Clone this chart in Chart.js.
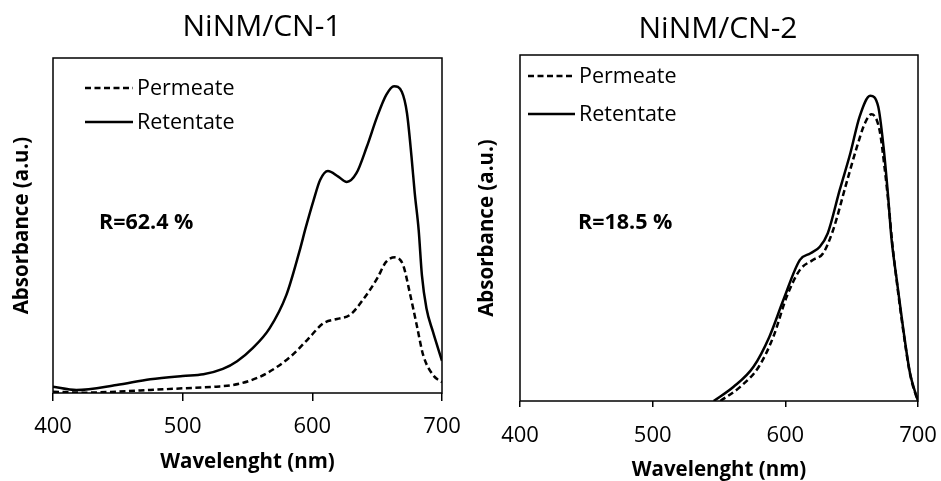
<!DOCTYPE html>
<html><head><meta charset="utf-8">
<script src="https://cdn.jsdelivr.net/npm/chart.js@4.4.1/dist/chart.umd.min.js"></script>
<style>
html,body{margin:0;padding:0;background:#fff;width:941px;height:481px;overflow:hidden}
#c1{position:absolute;left:0;top:0}
#c2{position:absolute;left:470px;top:0}
</style></head><body>
<canvas id="c1" width="470" height="481"></canvas>
<canvas id="c2" width="471" height="481"></canvas>
<script>
// ---- data ----
const xTicks = [400, 500, 600, 700];
const seriesNames = ['Permeate', 'Retentate'];
const chartTitles = ['NiNM/CN-1', 'NiNM/CN-2'];
const rejectionLabels = ['R=62.4 %', 'R=18.5 %'];
const xAxisTitle = 'Wavelenght (nm)';
const yAxisTitle = 'Absorbance (a.u.)';

const cn1PermeateWl = [400, 423, 449, 475, 500, 526, 539, 552, 565, 583, 596, 608.5, 619, 629, 639, 650, 657, 664, 670, 675, 680.5, 685.5, 693, 700];
const cn1PermeateAbs = [0.4, 0.1, 0.4, 0.9, 1.4, 1.9, 2.4, 3.7, 5.9, 10.8, 15.8, 20.8, 22.1, 23.3, 27.8, 34.2, 39.2, 40.5, 38.2, 30.2, 20.3, 11.3, 5.4, 3.2];
const cn1RetentateWl = [400, 418, 449, 475, 500, 516, 531, 542, 554, 567, 580, 590, 595, 601, 606, 612, 620, 626.5, 634, 642, 650, 657, 663, 669, 673, 676.5, 679, 682, 684.5, 688, 693, 700];
const cn1RetentateAbs = [1.9, 0.9, 2.4, 4.1, 5.1, 5.6, 7.2, 9.5, 13.4, 19.3, 29.3, 42.2, 49.5, 57.6, 63.6, 66.3, 64.6, 63.0, 65.6, 73.5, 82.5, 89.0, 91.6, 89.9, 83.5, 70.5, 59.6, 48.7, 35.2, 25.3, 18.3, 9.6];

const cn2PermeateWl = [551, 566, 580, 591, 601, 611, 621, 628.5, 636, 646, 654, 660, 665, 671, 675, 678.5, 680.5, 684, 689, 694, 699, 700];
const cn2PermeateAbs = [0, 4.1, 9.9, 18.6, 30.1, 37.9, 40.8, 42.7, 49.4, 62.9, 73.5, 80.3, 82.9, 78.3, 66.8, 54.2, 46.0, 34.5, 20.0, 7.8, 1.0, 0];
const cn2RetentateWl = [546, 561, 576, 588, 598.5, 611, 619, 626, 632, 641, 649, 656, 664, 670, 674, 677.5, 680, 684, 689, 694, 699, 700];
const cn2RetentateAbs = [0, 4.1, 9.9, 18.6, 29.2, 40.8, 42.7, 44.6, 48.5, 61.0, 71.6, 82.2, 88.2, 85.1, 73.5, 59.0, 47.0, 35.0, 20.5, 8.0, 1.2, 0];

// ---- helpers ----
const FONT = "'Open Sans', 'Liberation Sans', sans-serif";
function pts(xs, ys) { return xs.map((x, i) => ({ x: x, y: ys[i] })); }

function makeChart(id, cfg) {
  const decor = {
    id: 'decor',
    afterDraw(chart) {
      const ctx = chart.ctx, a = chart.chartArea;
      ctx.save();
      // frame
      ctx.strokeStyle = '#000'; ctx.lineWidth = 1.5;
      ctx.strokeRect(a.left, a.top, a.right - a.left, a.bottom - a.top);
      // title
      ctx.fillStyle = '#000';
      ctx.textBaseline = 'middle'; ctx.textAlign = 'center';
      ctx.font = '30px ' + FONT;
      ctx.fillText(cfg.title, cfg.titleX, cfg.titleY);
      // legend
      ctx.textAlign = 'left';
      ctx.font = '21.5px ' + FONT;
      cfg.legend.forEach((l, i) => {
        ctx.beginPath();
        ctx.lineWidth = 2.5;
        ctx.setLineDash(i === 0 ? [6, 3.5] : []);
        ctx.moveTo(l.x1, l.y); ctx.lineTo(l.x2, l.y); ctx.stroke();
        ctx.setLineDash([]);
        ctx.fillText(seriesNames[i], l.tx, l.y + 1);
      });
      // annotation
      ctx.font = 'bold 21.5px ' + FONT;
      ctx.fillText(cfg.note, cfg.noteX, cfg.noteY);
      ctx.restore();
    }
  };
  return new Chart(document.getElementById(id), {
    type: 'line',
    data: {
      datasets: [
        { label: seriesNames[0], data: cfg.perm, borderColor: '#000', borderWidth: 2.5, borderDash: [6, 3.5], pointRadius: 0, fill: false, cubicInterpolationMode: 'monotone' },
        { label: seriesNames[1], data: cfg.ret, borderColor: '#000', borderWidth: 2.5, pointRadius: 0, fill: false, cubicInterpolationMode: 'monotone' }
      ]
    },
    options: {
      responsive: false, animation: false, devicePixelRatio: 1,
      layout: { padding: { left: 0, right: cfg.padRight, top: cfg.padTop, bottom: 0 } },
      plugins: { legend: { display: false }, tooltip: { enabled: false }, title: { display: false } },
      scales: {
        x: {
          type: 'linear', min: 400, max: 700,
          afterBuildTicks: s => { s.ticks = xTicks.map(v => ({ value: v })); },
          afterFit: s => { s.height = cfg.xHeight; s.paddingLeft = 0; s.paddingRight = 0; },
          ticks: { color: '#000', font: { family: FONT, size: 22 }, padding: cfg.tickPad, maxRotation: 0, autoSkip: false },
          grid: { display: true, drawOnChartArea: false, drawTicks: true, tickLength: cfg.tickLen, color: '#000', lineWidth: 1.5 },
          border: { display: false },
          title: { display: true, text: xAxisTitle, color: '#000', font: { family: FONT, size: 20.5, weight: 'bold' }, padding: { top: 0, bottom: cfg.xTitlePad } }
        },
        y: {
          min: 0, max: 100,
          afterFit: s => { s.width = cfg.yWidth; s.paddingTop = 0; s.paddingBottom = 0; },
          ticks: { display: false },
          grid: { display: false },
          border: { display: false },
          title: { display: true, text: yAxisTitle, color: '#000', font: { family: FONT, size: 20.5, weight: 'bold' }, padding: { top: cfg.yTitlePad, bottom: 0 } }
        }
      }
    },
    plugins: [decor]
  });
}

makeChart('c1', {
  perm: pts(cn1PermeateWl, cn1PermeateAbs), ret: pts(cn1RetentateWl, cn1RetentateAbs),
  title: chartTitles[0], titleX: 262, titleY: 27,
  legend: [{ x1: 85, x2: 133, y: 88, tx: 137 }, { x1: 85, x2: 133, y: 122, tx: 137 }],
  note: rejectionLabels[0], noteX: 99, noteY: 223,
  padRight: 28, padTop: 58, xHeight: 88, yWidth: 53, tickLen: 8, tickPad: 13, xTitlePad: 6.5, yTitlePad: 9.5
});
makeChart('c2', {
  perm: pts(cn2PermeateWl, cn2PermeateAbs), ret: pts(cn2RetentateWl, cn2RetentateAbs),
  title: chartTitles[1], titleX: 248, titleY: 29,
  legend: [{ x1: 58, x2: 105, y: 76, tx: 109 }, { x1: 58, x2: 105, y: 114, tx: 109 }],
  note: rejectionLabels[1], noteX: 108, noteY: 223,
  padRight: 23, padTop: 55, xHeight: 80, yWidth: 50, tickLen: 6, tickPad: 16, xTitlePad: -1.5, yTitlePad: 4.5
});
</script>
</body></html>
